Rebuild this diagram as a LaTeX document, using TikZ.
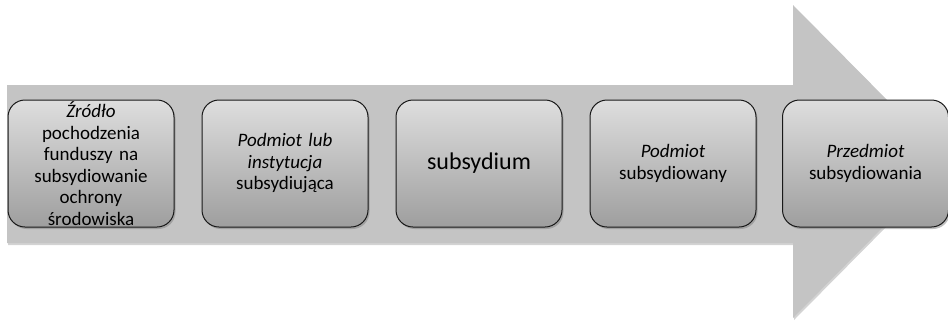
\documentclass[tikz,border=0pt]{standalone}
\usepackage{fontspec}
\setmainfont{Carlito}
\usetikzlibrary{shadows}
\definecolor{szary}{HTML}{C4C4C4}
\definecolor{jasny}{HTML}{DEDEDE}
\definecolor{ciemny}{HTML}{9E9E9E}
\tikzset{
  strzalka/.style={fill=szary, drop shadow={shadow xshift=1pt, shadow yshift=-2pt, opacity=0.35}},
  etap/.style={draw=black!90, line width=1pt, rounded corners=17pt, top color=jasny, bottom color=ciemny,
    minimum width=166pt, minimum height=127pt, text width=160pt, align=center, inner sep=0pt,
    font=\fontsize{19}{21.5}\selectfont,
    drop shadow={shadow xshift=1.5pt, shadow yshift=-2pt, opacity=0.5}}
}
\begin{document}
\begin{tikzpicture}[x=1pt,y=-1pt]
\useasboundingbox (0,0) rectangle (948,322);
% strzalka w tle
\fill[strzalka] (7,85) -- (793,85) -- (793,5) -- (948,161.5) -- (793,318) -- (793,243) -- (7,243) -- cycle;
% etapy
\def\etap#1#2#3{
\node[etap] (#2) at (#1,163.5) {#3};
}
\etap{91}{zrodlo}{\textit{Źródło}\\pochodzenia\\funduszy na\\subsydiowanie\\ochrony\\środowiska}
\etap{285}{instytucja}{\textit{Podmiot lub}\\\textit{instytucja}\\subsydiująca}
\etap{479}{subsydium}{\fontsize{24}{27}\selectfont subsydium}
\etap{673}{podmiot}{\textit{Podmiot}\\subsydiowany}
\etap{865.5}{przedmiot}{\textit{Przedmiot}\\subsydiowania}
\end{tikzpicture}
\end{document}
